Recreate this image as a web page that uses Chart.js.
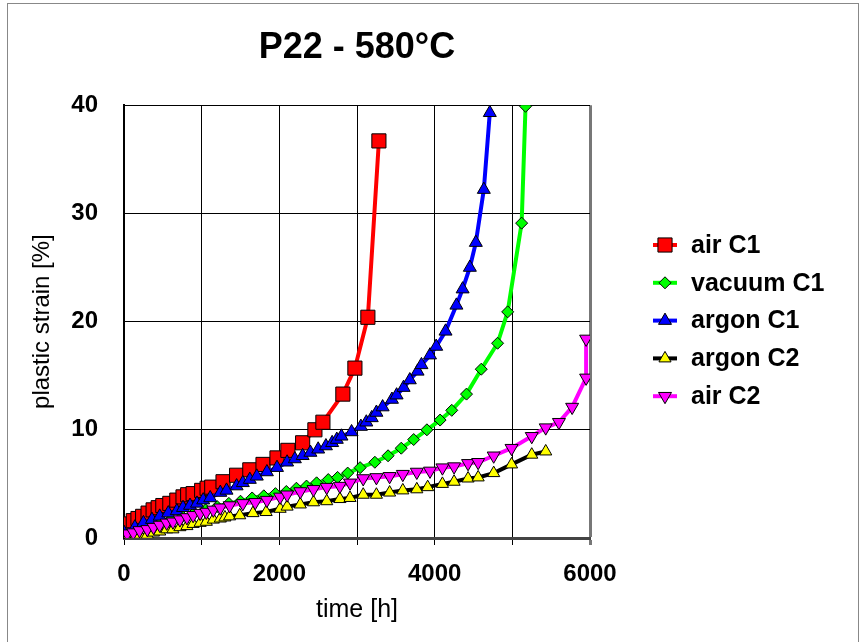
<!DOCTYPE html>
<html>
<head>
<meta charset="utf-8">
<title>P22 - 580°C</title>
<script src="https://cdn.jsdelivr.net/npm/chart.js@4.4.0/dist/chart.umd.min.js"></script>
<style>
    html, body { margin: 0; padding: 0; background: #fff; overflow: hidden; }
    #moldura { position: absolute; left: 7px; top: 3px; width: 850px; height: 660px; border: 1px solid #888; }
    #grafico { position: absolute; left: 0; top: 0; }
</style>
</head>
<body>
<div id="moldura"></div>
<canvas id="grafico" width="862" height="642"></canvas>
<script>
// valores (tempo em h, deformacao plastica em %)
const tempoArC1 = [0, 50, 120, 180, 240, 310, 375, 440, 500, 590, 680, 760, 820, 890, 1000, 1070, 1130, 1275, 1450, 1620, 1790, 1970, 2110, 2300, 2458, 2561, 2818, 2973, 3140, 3282];
const deformArC1 = [0.6, 1.3, 1.6, 1.8, 2.0, 2.3, 2.6, 2.8, 3.0, 3.2, 3.5, 3.8, 4.0, 4.1, 4.4, 4.6, 4.7, 5.2, 5.8, 6.3, 6.8, 7.4, 8.1, 8.8, 10.0, 10.7, 13.3, 15.7, 20.4, 36.7];

const tempoVacuoC1 = [0, 150, 300, 450, 600, 750, 900, 1050, 1200, 1350, 1500, 1650, 1800, 1950, 2090, 2220, 2350, 2480, 2630, 2750, 2880, 3040, 3230, 3400, 3570, 3730, 3900, 4070, 4220, 4410, 4600, 4810, 4940, 5120, 5170];
const deformVacuoC1 = [0.4, 0.8, 1.1, 1.4, 1.7, 2.0, 2.3, 2.6, 2.9, 3.2, 3.4, 3.7, 3.9, 4.1, 4.3, 4.6, 4.8, 5.1, 5.4, 5.6, 6.0, 6.5, 7.0, 7.6, 8.3, 9.1, 10.0, 10.9, 11.8, 13.3, 15.6, 18.0, 20.9, 29.1, 39.9];

const tempoArgonC1 = [0, 140, 250, 360, 460, 570, 680, 760, 850, 940, 1020, 1110, 1240, 1320, 1450, 1530, 1620, 1710, 1840, 1970, 2100, 2200, 2300, 2400, 2500, 2600, 2680, 2740, 2800, 2930, 3050, 3120, 3190, 3250, 3330, 3450, 3510, 3600, 3680, 3780, 3830, 3940, 4020, 4140, 4280, 4360, 4453, 4530, 4633, 4710];
const deformArgonC1 = [0.5, 1.0, 1.4, 1.7, 2.0, 2.3, 2.5, 2.8, 3.0, 3.2, 3.5, 3.7, 4.2, 4.4, 4.8, 5.1, 5.4, 5.7, 6.1, 6.5, 7.0, 7.3, 7.6, 7.9, 8.2, 8.5, 8.8, 9.1, 9.4, 9.8, 10.3, 10.7, 11.1, 11.6, 12.1, 12.8, 13.2, 13.9, 14.6, 15.4, 16.0, 16.9, 17.7, 19.1, 21.5, 23.0, 25.0, 27.3, 32.2, 39.3];

const tempoArgonC2 = [50, 140, 200, 300, 380, 460, 550, 630, 720, 810, 890, 980, 1060, 1150, 1240, 1300, 1360, 1490, 1660, 1830, 2010, 2100, 2270, 2440, 2610, 2780, 2910, 3080, 3250, 3420, 3590, 3770, 3910, 4100, 4250, 4430, 4560, 4760, 4990, 5250, 5430];
const deformArgonC2 = [0.1, 0.1, 0.3, 0.3, 0.5, 0.6, 0.8, 0.8, 1.0, 1.1, 1.3, 1.4, 1.5, 1.7, 1.8, 1.9, 2.0, 2.1, 2.3, 2.4, 2.7, 2.9, 3.1, 3.3, 3.4, 3.6, 3.7, 4.0, 4.0, 4.2, 4.4, 4.5, 4.7, 5.0, 5.2, 5.5, 5.6, 6.0, 6.8, 7.7, 8.0];

const tempoArC2 = [40, 120, 200, 300, 380, 460, 550, 630, 720, 810, 890, 980, 1060, 1150, 1240, 1360, 1530, 1690, 1840, 2010, 2100, 2270, 2440, 2610, 2780, 2910, 3080, 3250, 3420, 3590, 3770, 3940, 4100, 4250, 4430, 4560, 4760, 4990, 5250, 5430, 5600, 5770, 5950, 5950];
const deformArC2 = [0.4, 0.5, 0.7, 0.8, 1.0, 1.2, 1.4, 1.5, 1.7, 1.9, 2.1, 2.3, 2.4, 2.6, 2.8, 3.0, 3.2, 3.3, 3.5, 3.8, 4.0, 4.3, 4.5, 4.7, 4.8, 5.1, 5.5, 5.6, 5.7, 5.9, 6.1, 6.2, 6.5, 6.6, 6.9, 7.0, 7.6, 8.3, 9.4, 10.2, 10.7, 12.1, 14.8, 18.4];

const fonte = '"Liberation Sans", Arial, sans-serif';

function pontos(xs, ys) {
    return xs.map((x, i) => ({ x: x, y: ys[i] }));
}

// legenda desenhada a mao: linha + marcador como no original
const legendaLateral = {
    id: "legendaLateral",
    afterDraw(chart) {
        const ctx = chart.ctx;
        ctx.save();
        chart.data.datasets.forEach((ds, i) => {
            const y = 245 + i * 37.8;
            ctx.strokeStyle = ds.borderColor;
            ctx.lineWidth = 4;
            ctx.beginPath();
            ctx.moveTo(653, y);
            ctx.lineTo(677, y);
            ctx.stroke();

            ctx.fillStyle = ds.pointBackgroundColor;
            ctx.strokeStyle = "#000";
            ctx.lineWidth = 1;
            Chart.helpers.drawPoint(ctx, {
                pointStyle: ds.pointStyle,
                rotation: ds.pointRotation || 0,
                radius: ds.pointRadius,
                borderWidth: 1
            }, 665, y);

            ctx.fillStyle = "#000";
            ctx.font = "bold 25px " + fonte;
            ctx.textBaseline = "middle";
            ctx.textAlign = "left";
            ctx.fillText(ds.label, 691, y + 1);
        });
        ctx.restore();
    }
};

function serie(label, xs, ys, linha, marcador, estilo, raio, rot, ordem) {
    return {
        label: label,
        data: pontos(xs, ys),
        showLine: true,
        borderColor: linha,
        backgroundColor: marcador,
        borderWidth: 4,
        tension: 0,
        pointStyle: estilo,
        pointRadius: raio,
        pointRotation: rot,
        pointBackgroundColor: marcador,
        pointBorderColor: "#000",
        pointBorderWidth: 1,
        order: ordem
    };
}

new Chart(document.getElementById("grafico"), {
    type: "scatter",
    data: {
        datasets: [
            serie("air C1", tempoArC1, deformArC1, "#ff0000", "#ff0000", "rect", 10, 0, 5),
            serie("vacuum C1", tempoVacuoC1, deformVacuoC1, "#00ff00", "#00ff00", "rectRot", 6, 0, 4),
            serie("argon C1", tempoArgonC1, deformArgonC1, "#0000ff", "#0000ff", "triangle", 7.5, 0, 3),
            serie("argon C2", tempoArgonC2, deformArgonC2, "#000000", "#ffff00", "triangle", 7, 0, 2),
            serie("air C2", tempoArC2, deformArC2, "#ff00ff", "#ff00ff", "triangle", 7.5, 180, 1)
        ]
    },
    options: {
        responsive: false,
        animation: false,
        layout: { padding: { left: 0, right: 272, top: 0, bottom: 0 } },
        plugins: {
            legend: { display: false },
            tooltip: { enabled: false },
            title: {
                display: true,
                text: "P22 - 580°C",
                fullSize: false,
                color: "#000",
                font: { family: fonte, size: 36, weight: "bold" },
                padding: { top: 26, bottom: 36 }
            }
        },
        scales: {
            x: {
                type: "linear",
                min: 0,
                max: 6000,
                afterFit: (s) => { s.height = 104; },
                ticks: {
                    stepSize: 1000,
                    autoSkip: false,
                    maxRotation: 0,
                    color: "#000",
                    padding: 15,
                    font: { family: fonte, size: 24, weight: "bold" },
                    callback: (v) => (v % 2000 === 0 ? String(v) : "")
                },
                grid: {
                    color: (c) => (c.tick && c.tick.value === 6000 ? "#777" : "#000"),
                    lineWidth: (c) => (c.tick && c.tick.value === 6000 ? 3 : 1),
                    tickLength: 7
                },
                border: { color: "#444", width: 3 },
                title: {
                    display: true,
                    text: "time [h]",
                    color: "#000",
                    font: { family: fonte, size: 25 },
                    padding: { top: 0, bottom: 17 }
                }
            },
            y: {
                min: 0,
                max: 40,
                afterFit: (s) => { s.width = 124; },
                ticks: {
                    stepSize: 10,
                    color: "#000",
                    padding: 26,
                    font: { family: fonte, size: 24, weight: "bold" }
                },
                grid: { color: "#000", lineWidth: 1, drawTicks: false },
                border: { color: "#000", width: 2 },
                title: {
                    display: true,
                    text: "plastic strain [%]",
                    color: "#000",
                    font: { family: fonte, size: 24 },
                    padding: { top: 28, bottom: 0 }
                }
            }
        }
    },
    plugins: [legendaLateral]
});
</script>
</body>
</html>
